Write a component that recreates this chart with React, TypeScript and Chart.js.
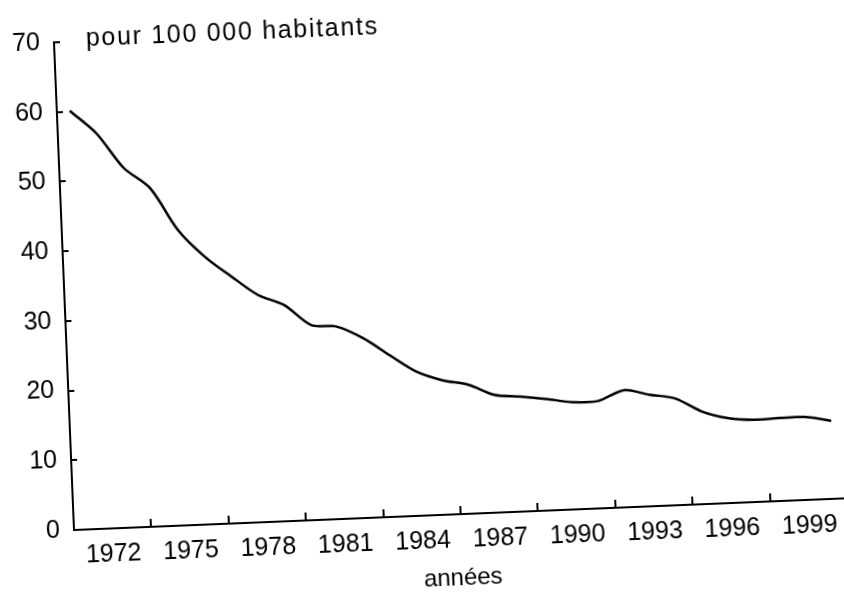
import React, { useEffect, useRef } from 'react';
import { Chart, registerables } from 'chart.js';

Chart.register(...registerables);

// Categories (one per year)
const years = [
  '1971', '1972', '1973', '1974', '1975', '1976', '1977', '1978', '1979', '1980',
  '1981', '1982', '1983', '1984', '1985', '1986', '1987', '1988', '1989', '1990',
  '1991', '1992', '1993', '1994', '1995', '1996', '1997', '1998', '1999', '2000',
];

// Rate per 100 000 inhabitants
const rates = [
  60.1, 56.7, 51.6, 48.5, 42.4, 38.4, 35.4, 32.6, 31.0, 28.0,
  27.6, 25.8, 23.2, 20.7, 19.3, 18.5, 16.9, 16.5, 16.0, 15.4,
  15.4, 16.8, 16.0, 15.3, 13.3, 12.2, 11.8, 11.9, 11.9, 11.2,
];

// Labelled years on the x axis
const xTickLabels = ['1972', '1975', '1978', '1981', '1984', '1987', '1990', '1993', '1996', '1999'];

// Y axis range
const yMin = 0;
const yMax = 70;
const yStep = 10;

const unitLabel = 'pour 100 000 habitants';
const axisLabel = 'années';

const FONT = '"Liberation Sans", Arial, Helvetica, sans-serif';

const unitTitlePlugin = {
  id: 'unitTitle',
  afterDraw(chart: any) {
    const { ctx, chartArea } = chart;
    ctx.save();
    ctx.font = `25px ${FONT}`;
    ctx.fillStyle = '#000';
    ctx.textAlign = 'left';
    ctx.textBaseline = 'alphabetic';
    (ctx as any).letterSpacing = '1.7px';
    ctx.fillText(unitLabel, chartArea.left + 32, chartArea.top + 5);
    ctx.restore();
  },
};

export default function App() {
  const canvasRef = useRef<HTMLCanvasElement | null>(null);

  useEffect(() => {
    const canvas = canvasRef.current;
    if (!canvas) return;
    const chart = new Chart(canvas, {
      type: 'line',
      data: {
        labels: years,
        datasets: [
          {
            data: rates,
            borderColor: '#000',
            borderWidth: 2.5,
            pointRadius: 0,
            tension: 0.3,
            fill: false,
          },
        ],
      },
      options: {
        responsive: false,
        animation: false,
        events: [],
        layout: { padding: { top: 42, left: 0, right: 0, bottom: 0 } },
        plugins: {
          legend: { display: false },
          tooltip: { enabled: false },
          title: { display: false },
        },
        scales: {
          x: {
            type: 'category',
            offset: true,
            grid: {
              display: true,
              offset: true,
              drawOnChartArea: false,
              drawTicks: true,
              tickLength: -8,
              lineWidth: 2,
              color: (ctx: any) =>
                ctx.index > 0 && ctx.index % 3 === 0 ? '#000' : 'rgba(0,0,0,0)',
            },
            border: { display: true, color: '#000', width: 2 },
            ticks: {
              autoSkip: false,
              maxRotation: 0,
              minRotation: 0,
              padding: 19,
              color: '#000',
              font: { family: FONT, size: 25 },
              callback: (_v: any, index: number) =>
                xTickLabels.includes(years[index]) ? years[index] : '',
            },
            title: {
              display: true,
              text: axisLabel,
              color: '#000',
              font: { family: FONT, size: 24 },
              padding: { top: 0, bottom: 11 },
            },
            afterFit: (scale: any) => {
              scale.height = 90;
              scale.paddingLeft = 0;
              scale.paddingRight = 0;
            },
          },
          y: {
            type: 'linear',
            min: yMin,
            max: yMax,
            grid: {
              display: true,
              drawOnChartArea: false,
              drawTicks: true,
              tickLength: -6,
              lineWidth: 2,
              color: '#000',
            },
            border: { display: true, color: '#000', width: 2 },
            ticks: {
              stepSize: yStep,
              padding: 20,
              color: '#000',
              font: { family: FONT, size: 25 },
            },
            afterFit: (scale: any) => {
              scale.width = 74;
              scale.paddingTop = 0;
              scale.paddingBottom = 0;
            },
          },
        },
      },
      plugins: [unitTitlePlugin],
    });
    return () => chart.destroy();
  }, []);

  return (
    <div
      style={{
        position: 'fixed',
        left: 0,
        top: 0,
        width: 844,
        height: 592,
        overflow: 'hidden',
        background: '#fff',
      }}
    >
      <canvas
        ref={canvasRef}
        width={848}
        height={620}
        style={{
          position: 'absolute',
          left: 0,
          top: 0,
          transform: 'rotate(-2.35deg)',
          transformOrigin: '74px 530px',
        }}
      />
    </div>
  );
}
